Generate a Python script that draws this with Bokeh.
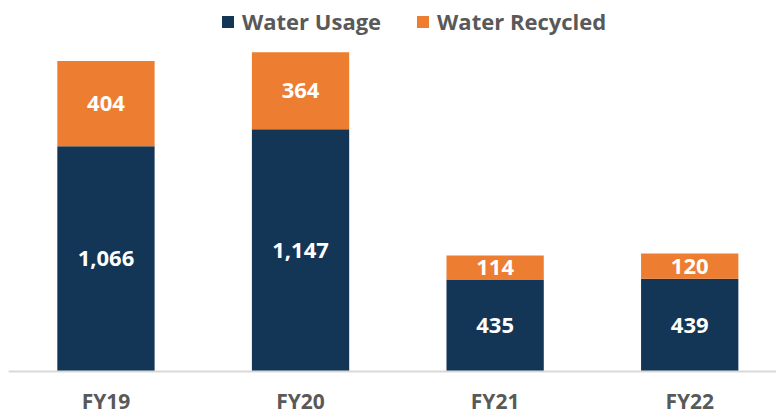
from bokeh.plotting import figure
from bokeh.models import ColumnDataSource, Range1d, Legend
from bokeh.core.properties import value
from bokeh.embed import file_html
from bokeh.resources import INLINE

years = ["FY19", "FY20", "FY21", "FY22"]
water_usage = [1066, 1147, 435, 439]
water_recycled = [404, 364, 114, 120]

NAVY = "#133657"
ORANGE = "#ED7D31"
GRAY = "#595959"
FONT = "Open Sans"

x = [i + 0.5 for i in range(len(years))]
src = ColumnDataSource(dict(
    x=x,
    usage=water_usage,
    recycled=water_recycled,
    usage_mid=[u / 2 for u in water_usage],
    rec_mid=[u + r / 2 for u, r in zip(water_usage, water_recycled)],
    usage_lbl=[f"{u:,}" for u in water_usage],
    rec_lbl=[f"{r:,}" for r in water_recycled],
    year=years,
    zero=[0] * len(years),
))

p = figure(width=776, height=417, output_backend="svg", toolbar_location=None,
           x_range=Range1d(-0.042, 3.946), y_range=Range1d(-217.7, 1755.8),
           min_border=0, min_border_left=0, min_border_right=0,
           min_border_top=0, min_border_bottom=0)
p.xaxis.visible = False
p.yaxis.visible = False
p.xgrid.visible = False
p.ygrid.visible = False
p.outline_line_color = None
p.background_fill_color = "white"
p.border_fill_color = "white"

rs = p.vbar_stack(["usage", "recycled"], x="x", width=0.5, source=src,
                  color=[NAVY, ORANGE], line_color=None)

# category axis line
p.segment(x0=[0], y0=[0], x1=[len(years)], y1=[0], line_color="#d9d9d9", line_width=2)

p.text(x="x", y="usage_mid", text="usage_lbl", source=src, text_align="center",
       text_baseline="middle", text_color="white", text_font=value(FONT),
       text_font_style="bold", text_font_size="22px")
p.text(x="x", y="rec_mid", text="rec_lbl", source=src, text_align="center",
       text_baseline="middle", text_color="white", text_font=value(FONT),
       text_font_style="bold", text_font_size="22px")
p.text(x="x", y="zero", text="year", source=src, text_align="center",
       text_baseline="middle", y_offset=29, text_color=GRAY,
       text_font=value(FONT), text_font_style="bold", text_font_size="21px")

legend = Legend(items=[("Water Usage", [rs[0]]), ("Water Recycled", [rs[1]])],
                orientation="horizontal", location=(220, 381),
                glyph_width=15, glyph_height=15, label_standoff=7, spacing=34,
                padding=0, margin=0, border_line_color=None,
                background_fill_alpha=0,
                label_text_font=FONT, label_text_font_style="bold",
                label_text_font_size="22px", label_text_color=GRAY)
p.add_layout(legend)

open("out.html", "w").write(file_html(p, INLINE))
